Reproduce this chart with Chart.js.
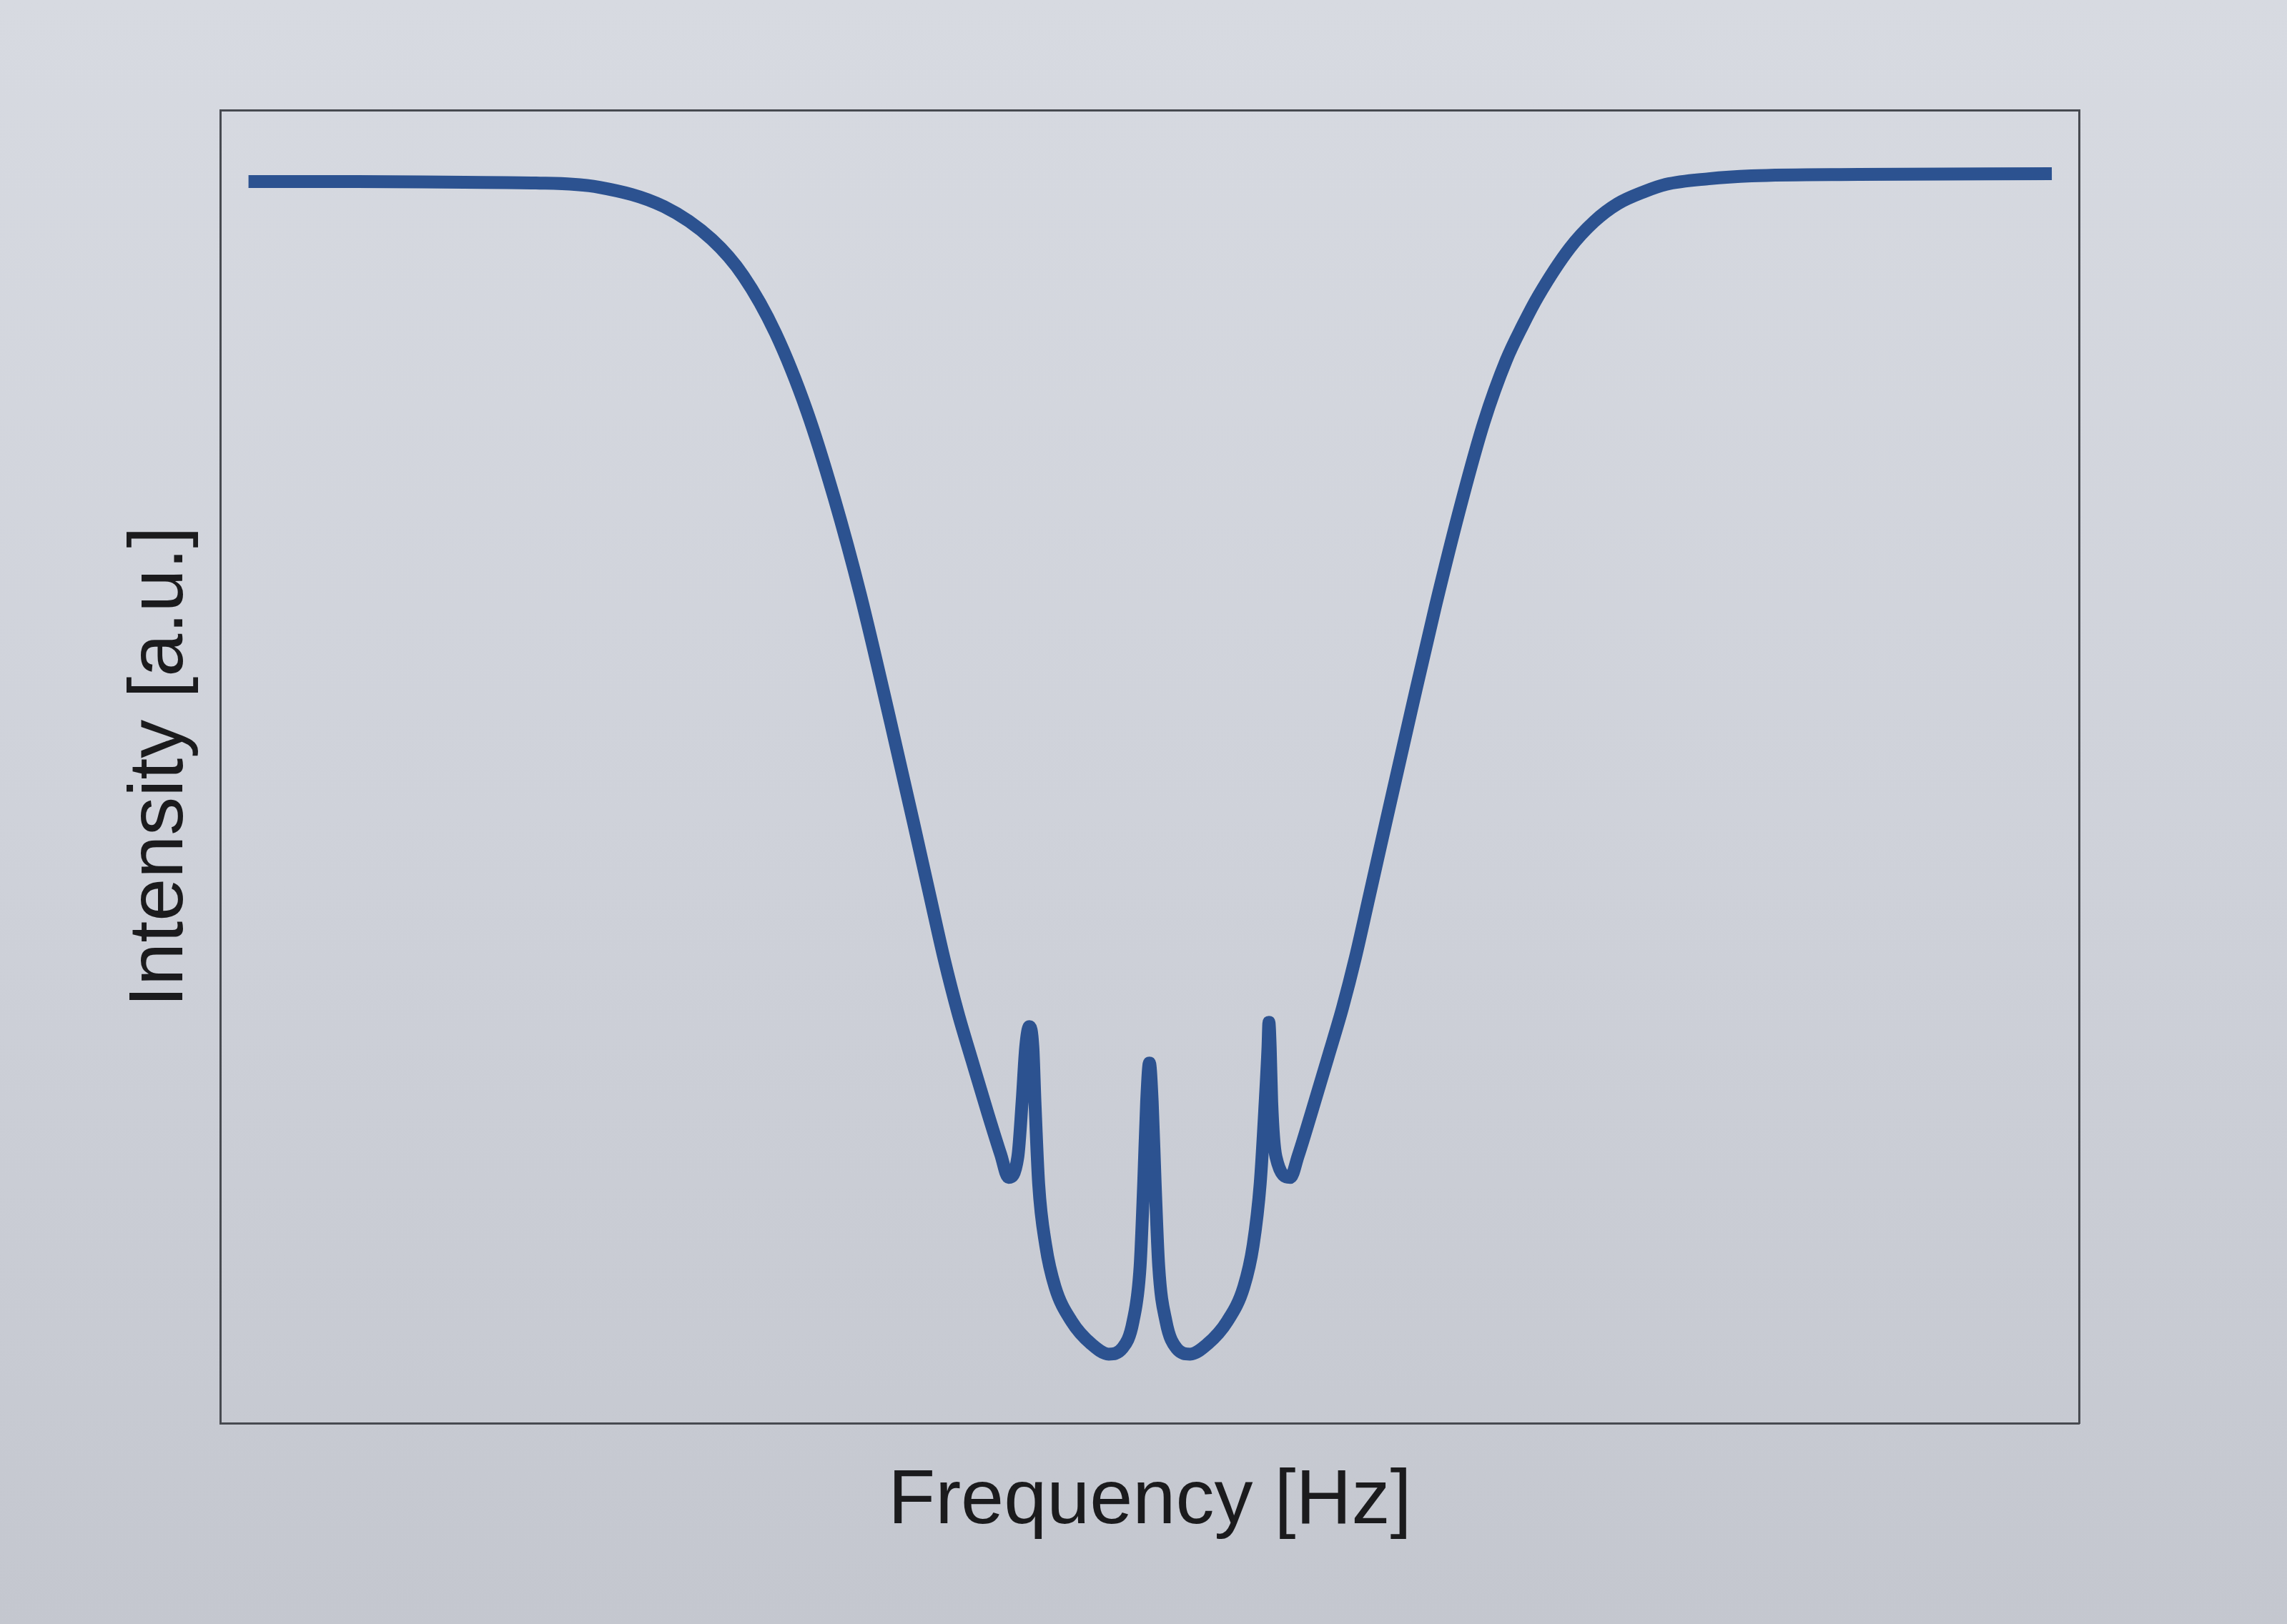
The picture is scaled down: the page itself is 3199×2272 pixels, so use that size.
<!DOCTYPE html>
<html>
<head>
<meta charset="utf-8">
<script src="https://cdn.jsdelivr.net/npm/chart.js@4.4.1/dist/chart.umd.min.js"></script>
<style>
  html, body { margin: 0; padding: 0; width: 3199px; height: 2272px; overflow: hidden;
    background: linear-gradient(180deg, #d7dae1 0%, #cfd2da 50%, #c4c7cf 100%); }
  #wrap { position: absolute; left: 0; top: 0; width: 3199px; height: 2272px; }
</style>
</head>
<body>
<div id="wrap"><canvas id="c" width="3199" height="2272"></canvas></div>
<script>
// Frequency axis (arbitrary units, 0..100 across the plot frame)
const frequency = [
  1.50, 7.35, 13.12, 16.97, 20.39, 23.86, 26.43, 28.13, 29.86, 31.55,
  33.01, 34.44, 36.05, 37.28, 38.21, 38.94, 39.67, 40.44, 41.28, 41.98,
  42.40, 42.90, 43.13, 43.32, 43.52, 43.71, 43.82, 44.02, 44.40, 44.90,
  45.79, 46.86, 47.79, 48.52, 49.10, 49.48, 49.67, 49.83, 49.98, 50.13,
  50.29, 50.48, 50.87, 51.44, 52.17, 53.10, 54.17, 55.06, 55.56, 55.94,
  56.21, 56.36, 56.41, 56.48, 56.56, 56.79, 57.56, 57.98, 58.68, 59.60,
  60.37, 61.06, 61.79, 62.75, 64.06, 65.37, 66.80, 67.99, 69.18, 70.07,
  70.91, 72.60, 73.91, 75.18, 76.61, 77.76, 80.07, 82.38, 88.15, 98.54
];
// Intensity (arbitrary units, 0..100 across the plot frame)
const intensity = [
  94.56, 94.56, 94.50, 94.45, 94.12, 92.65, 90.15, 87.37, 83.02, 77.08,
  70.50, 63.04, 53.40, 45.78, 39.90, 35.33, 31.30, 27.60, 23.63, 20.47,
  18.73, 20.30, 24.50, 28.63, 30.21, 28.63, 24.50, 18.24, 13.55, 10.40,
  7.78, 6.04, 5.28, 5.72, 7.78, 11.98, 18.24, 24.50, 27.44, 24.50,
  18.24, 11.98, 7.78, 5.72, 5.28, 6.04, 7.78, 10.40, 13.55, 18.24,
  24.50, 28.63, 30.54, 28.63, 24.50, 20.30, 18.73, 20.36, 23.57, 27.93,
  31.63, 35.44, 40.01, 46.05, 54.22, 62.22, 70.28, 76.27, 80.95, 83.61,
  85.85, 89.49, 91.51, 92.87, 93.79, 94.34, 94.77, 94.99, 95.10, 95.16
];
const xAxisTitle = 'Frequency [Hz]';
const yAxisTitle = 'Intensity [a.u.]';
const xRange = [0, 100];
const yRange = [0, 100];

const points = frequency.map((f, i) => ({ x: f, y: intensity[i] }));
const frameColor = '#474a50';
const titleFont = { family: "'Liberation Sans', Arial, sans-serif", size: 108, lineHeight: 1.2 };

function hiddenAxis(position, range) {
  return {
    type: 'linear', position: position, display: true,
    min: range[0], max: range[1],
    ticks: { display: false },
    grid: { display: false, drawTicks: false },
    border: { display: true, color: frameColor, width: 3 }
  };
}

const xAxis = hiddenAxis('bottom', xRange);
xAxis.title = { display: true, text: xAxisTitle, color: '#1b1b1d', font: titleFont, padding: { top: 45, bottom: 0 } };
const yAxis = hiddenAxis('left', yRange);
yAxis.title = { display: true, text: yAxisTitle, color: '#1b1b1d', font: titleFont, padding: { top: 0, bottom: 19 } };
const xTop = hiddenAxis('top', xRange);
const yRight = hiddenAxis('right', yRange);

new Chart(document.getElementById('c').getContext('2d'), {
  type: 'line',
  data: {
    datasets: [{
      data: points,
      borderColor: '#2c5290',
      borderWidth: 18,
      pointRadius: 0,
      fill: false,
      cubicInterpolationMode: 'monotone',
      borderCapStyle: 'butt',
      borderJoinStyle: 'round'
    }]
  },
  options: {
    responsive: false,
    animation: false,
    maintainAspectRatio: false,
    layout: { padding: { left: 160, top: 154, right: 291, bottom: 106 } },
    plugins: { legend: { display: false }, tooltip: { enabled: false } },
    scales: { x: xAxis, y: yAxis, x2: xTop, y2: yRight }
  }
});
</script>
</body>
</html>
